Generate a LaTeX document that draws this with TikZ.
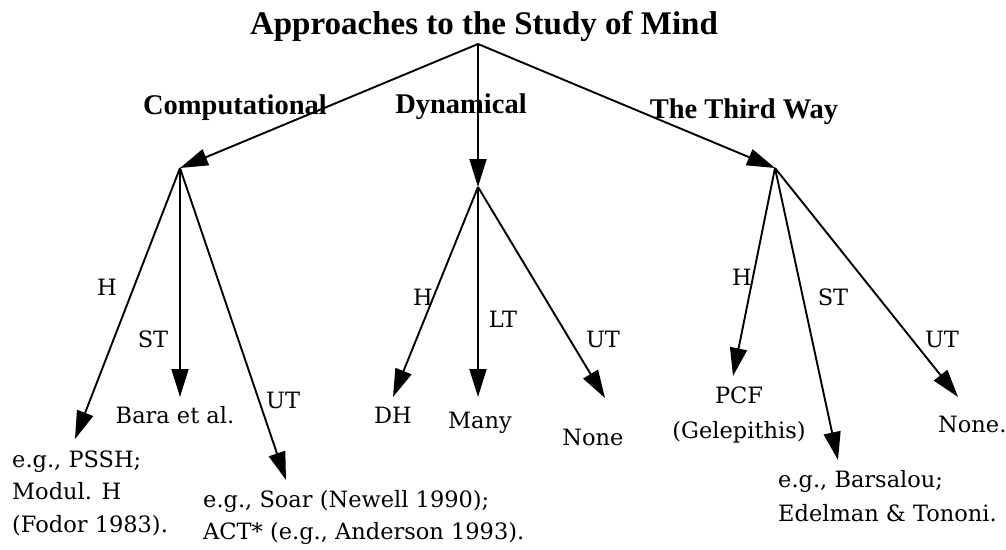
\documentclass[tikz,border=0pt]{standalone}
\usepackage{fontspec}
\setmainfont{DejaVu Serif}
\newfontfamily\boldserif{Liberation Serif}
\usetikzlibrary{arrows.meta}
\begin{document}
\begin{tikzpicture}[x=1pt,y=-1pt,
  conn/.style={line width=1.9pt,-{Triangle[length=28pt,width=17pt]}},
  lbl/.style={inner sep=0pt,anchor=base,font=\fontsize{22.5}{32.5}\selectfont},
  leafw/.style={inner sep=0pt,anchor=base west,font=\fontsize{22.5}{32.5}\selectfont},
  cat/.style={inner sep=0pt,anchor=base,font=\boldserif\bfseries\fontsize{28.5}{30}\selectfont},
  ttl/.style={inner sep=0pt,anchor=base,font=\boldserif\bfseries\fontsize{33}{36}\selectfont}]
\useasboundingbox[fill=white] (0,0) rectangle (1006,549);

% title and category labels
\node[ttl] (title) at (484,34) {Approaches to the Study of Mind};
\node[cat] (lcomp) at (235,114) {Computational};
\node[cat] (ldyn) at (461,113) {Dynamical};
\node[cat] (lthird) at (744,118) {The Third Way};

% branching points
\coordinate (root) at (478,44);
\coordinate (comp) at (180,168);
\coordinate (dyn) at (478,187);
\coordinate (third) at (775,168);

% arrow tips
\coordinate (cH) at (75,439);
\coordinate (cST) at (180,397);
\coordinate (cUT) at (286,480);
\coordinate (dH) at (393,397);
\coordinate (dLT) at (478,397);
\coordinate (dUT) at (605,398);
\coordinate (tH) at (733,376);
\coordinate (tST) at (838,460);
\coordinate (tUT) at (958,397);

% top-level arrows
\draw[conn] (root) -- (comp);
\draw[conn] (root) -- (dyn);
\draw[conn] (root) -- (third);

% second-level arrows
\draw[conn] (comp) -- (cH);
\draw[conn] (comp) -- (cST);
\draw[conn] (comp) -- (cUT);
\draw[conn] (dyn) -- (dH);
\draw[conn] (dyn) -- (dLT);
\draw[conn] (dyn) -- (dUT);
\draw[conn] (third) -- (tH);
\draw[conn] (third) -- (tST);
\draw[conn] (third) -- (tUT);

% edge labels
\node[lbl] (ecH) at (107,295) {H};
\node[lbl] (ecST) at (153,347) {ST};
\node[leafw] (ecUT) at (266,408) {UT};
\node[lbl] (edH) at (423,305) {H};
\node[lbl] (edLT) at (503,327) {LT};
\node[lbl] (edUT) at (603,347) {UT};
\node[lbl] (etH) at (742,285) {H};
\node[lbl] (etST) at (833,305) {ST};
\node[lbl] (etUT) at (942,347) {UT};

% leaves
\node[leafw] (pssh) at (12,467) {\begin{tabular}[t]{@{}l@{}}e.g., PSSH;\\Modul. H\\(Fodor 1983).\end{tabular}};
\node[lbl] (bara) at (175,423) {Bara et al.};
\node[leafw] (soar) at (203,507) {\begin{tabular}[t]{@{}l@{}}e.g., Soar (Newell 1990);\\ACT* (e.g., Anderson 1993).\end{tabular}};
\node[lbl] (dhleaf) at (393,423) {DH};
\node[lbl] (many) at (480,428) {Many};
\node[lbl] (none1) at (593,445) {None};
\node[lbl,font=\fontsize{22.5}{35}\selectfont] (pcf) at (739,403) {\begin{tabular}[t]{@{}c@{}}PCF\\(Gelepithis)\end{tabular}};
\node[leafw,font=\fontsize{22.5}{34.5}\selectfont] (bars) at (778,487) {\begin{tabular}[t]{@{}l@{}}e.g., Barsalou;\\Edelman \& Tononi.\end{tabular}};
\node[leafw] (none2) at (938,432) {None.};
\end{tikzpicture}
\end{document}
